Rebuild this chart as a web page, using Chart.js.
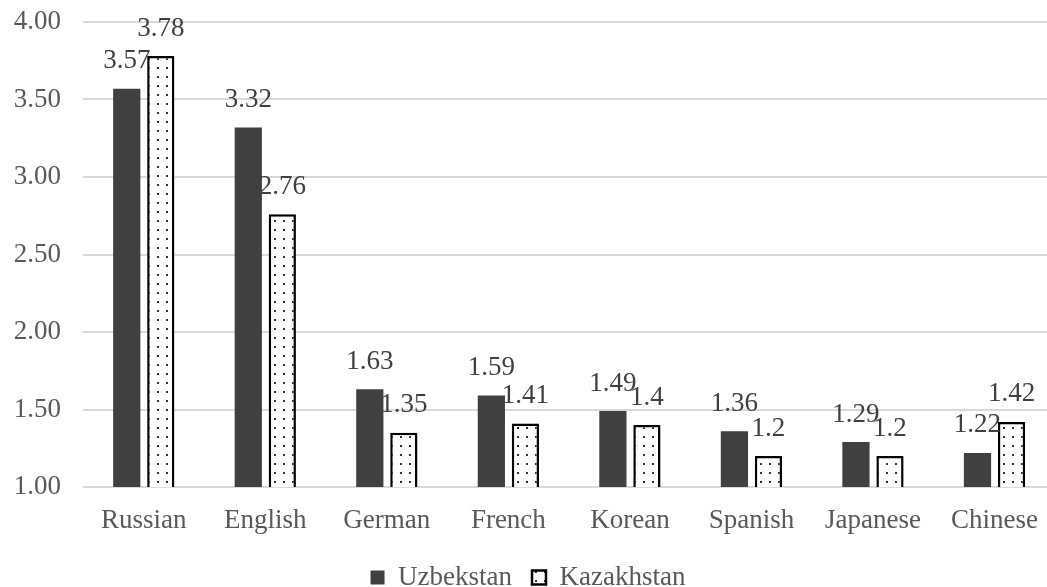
<!DOCTYPE html>
<html>
<head>
<meta charset="utf-8">
<script src="https://cdn.jsdelivr.net/npm/chart.js@4"></script>
<style>
  html, body { margin: 0; padding: 0; background: #fff; overflow: hidden; }
  #wrap { width: 1056px; height: 601px; }
</style>
</head>
<body>
<div id="wrap"><canvas id="grafico"></canvas></div>
<script>
const idiomas = ['Russian', 'English', 'German', 'French', 'Korean', 'Spanish', 'Japanese', 'Chinese'];
const uzbekistan = [3.57, 3.32, 1.63, 1.59, 1.49, 1.36, 1.29, 1.22];
const kazakhstan = [3.78, 2.76, 1.35, 1.41, 1.4, 1.2, 1.2, 1.42];
const ticksY = [1, 1.5, 2, 2.5, 3, 3.5, 4];

const fuente = 'Liberation Serif, Times New Roman, serif';
const gris = '#595959';

function patronPuntos() {
  const c = document.createElement('canvas');
  c.width = 9; c.height = 9;
  const ctx = c.getContext('2d');
  ctx.fillStyle = '#fff';
  ctx.fillRect(0, 0, 9, 9);
  ctx.fillStyle = '#333';
  ctx.fillRect(4, 4, 2, 2);
  return ctx.createPattern(c, 'repeat');
}

const puntos = patronPuntos();

// etiquetas de valor encima de cada barra
const etiquetas = {
  id: 'etiquetas',
  afterDatasetsDraw(chart) {
    const ctx = chart.ctx;
    ctx.save();
    ctx.font = '27px ' + fuente;
    ctx.fillStyle = '#404040';
    ctx.textAlign = 'center';
    ctx.textBaseline = 'bottom';
    chart.data.datasets.forEach((ds, i) => {
      chart.getDatasetMeta(i).data.forEach((bar, j) => {
        ctx.fillText(String(ds.data[j]), bar.x, bar.y - 14);
      });
    });
    ctx.restore();
  }
};

new Chart(document.getElementById('grafico'), {
  type: 'bar',
  data: {
    labels: idiomas,
    datasets: [
      {
        label: 'Uzbekstan',
        data: uzbekistan,
        backgroundColor: '#404040',
        borderWidth: 0,
        barPercentage: 0.8,
        categoryPercentage: 0.56
      },
      {
        label: 'Kazakhstan',
        data: kazakhstan,
        backgroundColor: puntos,
        borderColor: '#000',
        borderWidth: 2.5,
        barPercentage: 0.8,
        categoryPercentage: 0.56
      }
    ]
  },
  options: {
    responsive: true,
    maintainAspectRatio: false,
    animation: false,
    layout: { padding: { top: 22, right: 0, left: 0, bottom: 0 } },
    plugins: {
      legend: {
        position: 'bottom',
        labels: {
          font: { family: fuente, size: 27 },
          color: gris,
          boxWidth: 14,
          boxHeight: 14,
          padding: 20
        }
      },
      tooltip: { enabled: false }
    },
    scales: {
      x: {
        afterFit(scale) { scale.height = 57; },
        grid: { display: false, drawTicks: false },
        border: { display: false },
        ticks: { font: { family: fuente, size: 27 }, color: gris, padding: 18 }
      },
      y: {
        min: 1,
        max: 4,
        afterBuildTicks(scale) { scale.ticks = ticksY.map(v => ({ value: v })); },
        afterFit(scale) {
          scale.width = 83;
          scale.paddingTop = 0;
          scale.paddingBottom = 0;
        },
        grid: { color: '#d9d9d9', lineWidth: 2, drawTicks: false },
        border: { display: false },
        ticks: {
          font: { family: fuente, size: 27 },
          color: gris,
          padding: 22,
          callback: v => v.toFixed(2)
        }
      }
    }
  },
  plugins: [etiquetas]
});
</script>
</body>
</html>
